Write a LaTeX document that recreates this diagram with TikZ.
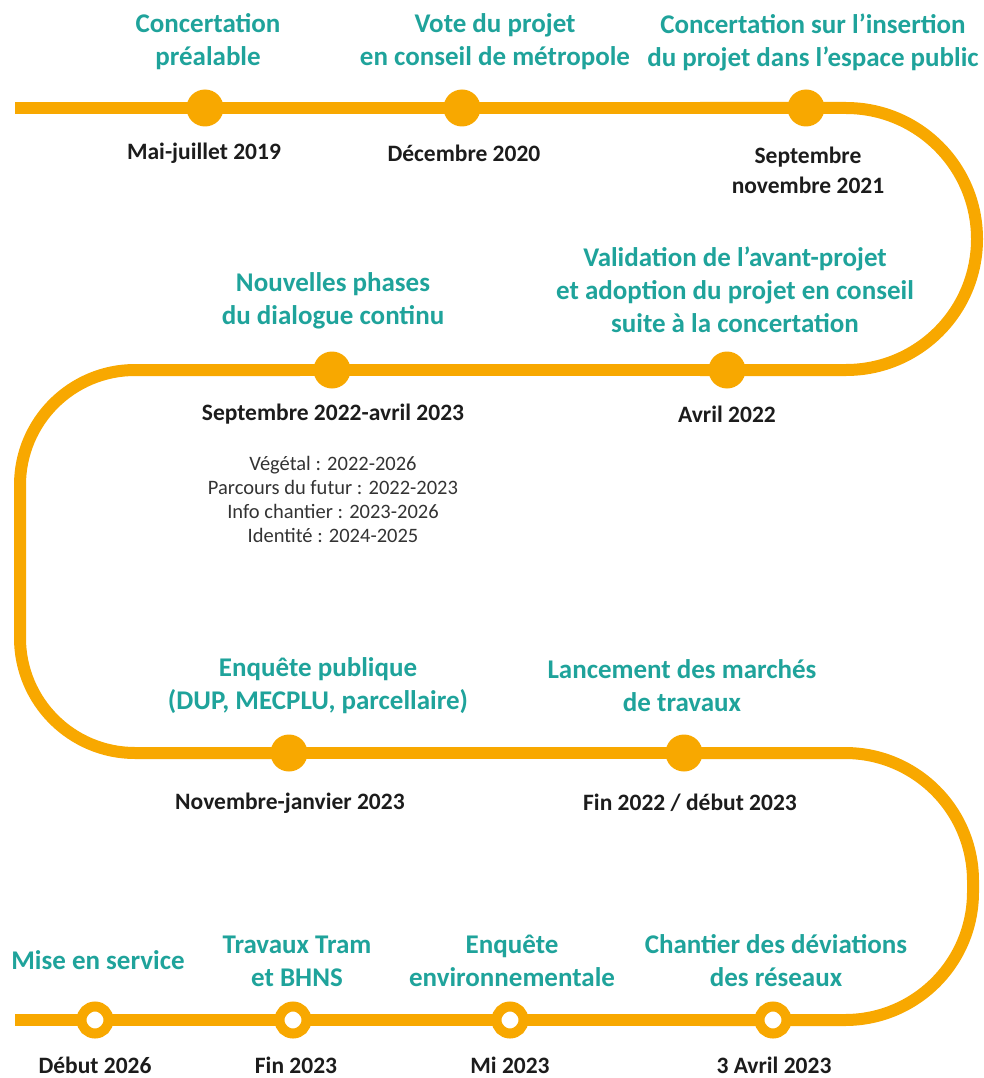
\documentclass[tikz,border=0pt]{standalone}
\usepackage{fontspec}
\setmainfont{Carlito}
\definecolor{trackorange}{HTML}{F8A800}
\definecolor{titleteal}{HTML}{1FA39B}
\definecolor{datedark}{HTML}{1C1C1C}
\begin{document}
\begin{tikzpicture}[x=1pt,y=-1pt,
  track/.style={draw=trackorange,line width=12pt},
  uturn/.style={track},
  stopfull/.style={circle,fill=trackorange,minimum size=37pt,inner sep=0pt},
  stopopen/.style={circle,fill=white,draw=trackorange,line width=10pt,minimum size=27pt,inner sep=0pt},
  ttl/.style={text=titleteal,font=\bfseries\fontsize{27}{33}\selectfont,align=center,inner sep=0pt},
  dte/.style={text=datedark,font=\bfseries\fontsize{23.5}{30}\selectfont,align=center,inner sep=0pt},
  sub/.style={text=datedark!90,font=\fontsize{20.5}{24}\selectfont,align=center,inner sep=0pt}]
\useasboundingbox (0,0) rectangle (983,1078);
% track
\coordinate (r1s) at (15,108);
\coordinate (r1e) at (846,108);
\coordinate (r2s) at (131,370);
\coordinate (r2e) at (846,370);
\coordinate (r3s) at (131,753);
\coordinate (r3e) at (848,753);
\coordinate (r4s) at (15,1020);
\coordinate (r4e) at (848,1020);
\draw[track] (r1s) -- (r1e);
\draw[uturn,rounded corners=131pt] (700,108) -- (977,108) -- (977,370) -- (700,370);
\draw[track] (r2s) -- (r2e);
\draw[uturn,rounded corners=115pt] (300,370) -- (20,370) -- (20,753) -- (300,753);
\draw[track] (r3s) -- (r3e);
\draw[uturn,rounded corners=128pt] (700,753) -- (973,753) -- (973,1020) -- (700,1020);
\draw[track] (r4s) -- (r4e);
% stops row 1
\node[stopfull] (s1) at (205,108) {};
\node[stopfull] (s2) at (462,108) {};
\node[stopfull] (s3) at (806,108) {};
% row 2
\node[stopfull] (s5) at (332,370) {};
\node[stopfull] (s4) at (727,370) {};
% row 3
\node[stopfull] (s6) at (289,753) {};
\node[stopfull] (s7) at (684,753) {};
% row 4
\node[stopopen] (s11) at (95,1020) {};
\node[stopopen] (s10) at (293,1020) {};
\node[stopopen] (s9) at (510,1020) {};
\node[stopopen] (s8) at (773,1020) {};
% titles
\node[ttl] (t1) at (208,42) {Concertation\\préalable};
\node[ttl] (t2) at (495,42) {Vote du projet\\en conseil de métropole};
\node[ttl] (t3) at (813,42) {Concertation sur l'insertion\\du projet dans l'espace public};
\node[ttl] (t5) at (333,301) {Nouvelles phases\\du dialogue continu};
\node[ttl] (t4) at (735,290) {Validation de l'avant-projet\\et adoption du projet en conseil\\suite à la concertation};
\node[ttl] (t6) at (318,686) {Enquête publique\\(DUP, MECPLU, parcellaire)};
\node[ttl] (t7) at (682,686) {Lancement des marchés\\de travaux};
\node[ttl] (t11) at (98,960) {Mise en service};
\node[ttl] (t10) at (297,961) {Travaux Tram\\et BHNS};
\node[ttl] (t9) at (512,961) {Enquête\\environnementale};
\node[ttl] (t8) at (776,961) {Chantier des déviations\\des réseaux};
% dates
\node[dte] (d1) at (204,153) {Mai-juillet 2019};
\node[dte] (d2) at (464,153) {Décembre 2020};
\node[dte] (d3) at (808,170) {Septembre\\novembre 2021};
\node[dte] (d5) at (333,414) {Septembre 2022-avril 2023};
\node[dte] (d4) at (727,414) {Avril 2022};
\node[dte] (d6) at (290,803) {Novembre-janvier 2023};
\node[dte] (d7) at (690,803) {Fin 2022 / début 2023};
\node[dte] (d11) at (95,1065) {Début 2026};
\node[dte] (d10) at (296,1065) {Fin 2023};
\node[dte] (d9) at (510,1065) {Mi 2023};
\node[dte] (d8) at (774,1065) {3 Avril 2023};
% sub list
\node[sub] (l5) at (333,499) {Végétal : 2022-2026\\Parcours du futur : 2022-2023\\Info chantier : 2023-2026\\Identité : 2024-2025};
\end{tikzpicture}
\end{document}
